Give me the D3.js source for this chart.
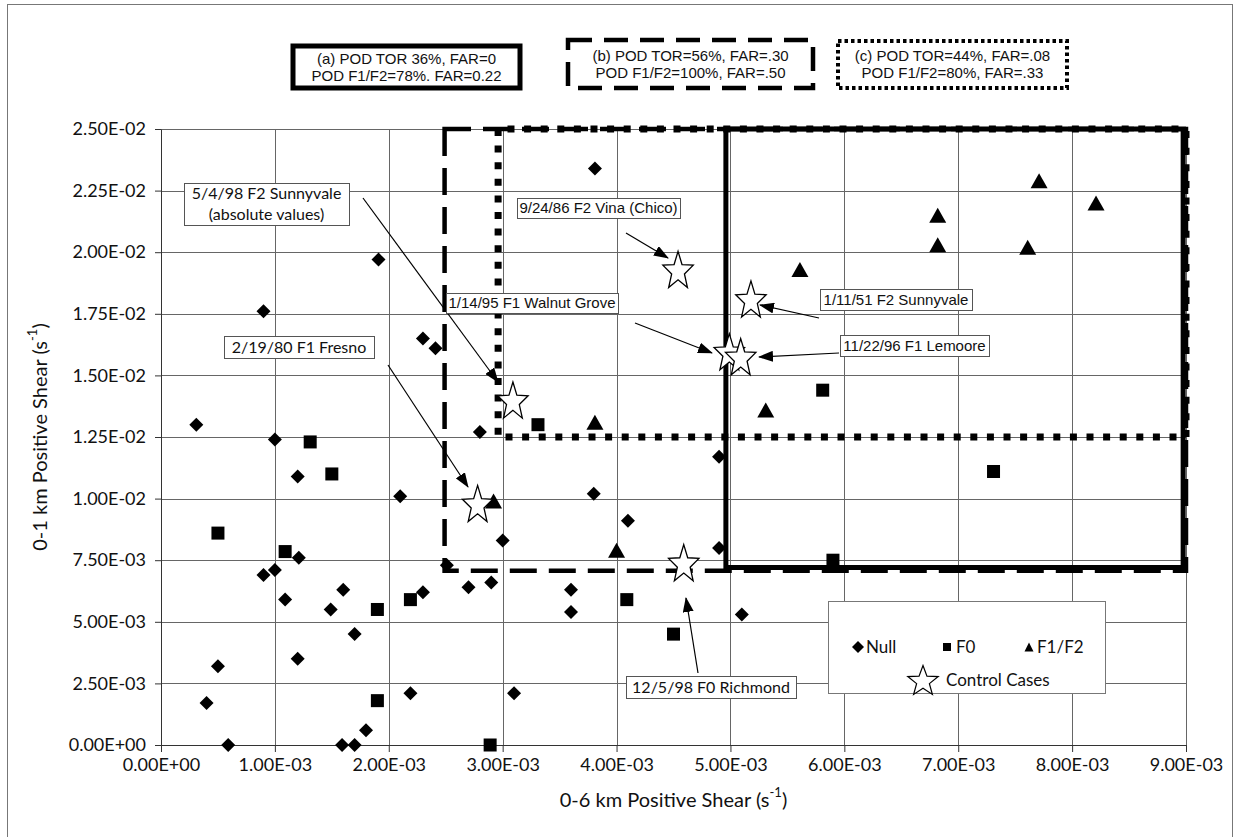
<!DOCTYPE html>
<html><head><meta charset="utf-8">
<script src="https://cdn.jsdelivr.net/npm/d3@7"></script>
<style>body{margin:0;background:#fff}</style>
</head><body>
<svg id="chart" width="1236" height="837"></svg>
<script>
// ---------------- DATA ----------------
const nullX = [0.31,0.90,1.00,1.20,1.91,2.30,2.41,2.10,2.80,3.81,4.90,3.80,4.10,3.00,4.90,2.51,2.70,2.90,3.60,3.60,5.10,1.21,0.90,1.00,1.09,1.49,1.60,1.70,1.20,0.50,0.40,0.59,1.59,1.70,1.80,2.19,2.30,3.10].map(v=>v*1e-3);
const nullY = [13.0,17.6,12.4,10.9,19.7,16.5,16.1,10.1,12.7,23.4,11.7,10.2,9.1,8.3,8.0,7.3,6.4,6.6,6.3,5.4,5.3,7.6,6.9,7.1,5.9,5.5,6.3,4.5,3.5,3.2,1.7,0.0,0.0,0.0,0.6,2.1,6.2,2.1].map(v=>v*1e-3);
const f0X = [0.50,1.09,1.31,1.50,1.90,1.90,2.19,2.89,3.31,4.09,4.50,5.81,5.90,7.31].map(v=>v*1e-3);
const f0Y = [8.6,7.85,12.3,11.0,5.5,1.8,5.9,0.0,13.0,5.9,4.5,14.4,7.5,11.1].map(v=>v*1e-3);
const f12X = [2.92,3.81,4.00,5.31,5.61,6.82,6.82,7.61,7.71,8.21].map(v=>v*1e-3);
const f12Y = [9.9,13.1,7.9,13.6,19.3,21.5,20.3,20.2,22.9,22.0].map(v=>v*1e-3);
const ctrlNames = ["5/4/98 F2 Sunnyvale","2/19/80 F1 Fresno","9/24/86 F2 Vina (Chico)","1/14/95 F1 Walnut Grove","11/22/96 F1 Lemoore","1/11/51 F2 Sunnyvale","12/5/98 F0 Richmond"];
const ctrlX = [3.09,2.78,4.54,4.99,5.09,5.18,4.59].map(v=>v*1e-3);
const ctrlY = [14.0,9.8,19.3,15.96,15.76,18.1,7.4].map(v=>v*1e-3);

const xTicks = [0,0.001,0.002,0.003,0.004,0.005,0.006,0.007,0.008,0.009];
const xTickLabels = ["0.00E+00","1.00E-03","2.00E-03","3.00E-03","4.00E-03","5.00E-03","6.00E-03","7.00E-03","8.00E-03","9.00E-03"];
const yTicks = [0,0.0025,0.005,0.0075,0.01,0.0125,0.015,0.0175,0.02,0.0225,0.025];
const yTickLabels = ["0.00E+00","2.50E-03","5.00E-03","7.50E-03","1.00E-02","1.25E-02","1.50E-02","1.75E-02","2.00E-02","2.25E-02","2.50E-02"];

// threshold boxes [xMin, yMin, xMax, yMax]
const boxA = [4.96e-3, 7.2e-3, 8.975e-3, 0.025];
const boxB = [2.49e-3, 7.07e-3, 9.0e-3, 0.025];
const boxC = [2.96e-3, 12.5e-3, 9.0e-3, 0.025];
const boxTexts = [
  ["(a)  POD TOR 36%, FAR=0","POD F1/F2=78%. FAR=0.22"],
  ["(b) POD TOR=56%, FAR=.30","POD F1/F2=100%, FAR=.50"],
  ["(c) POD TOR=44%, FAR=.08","POD F1/F2=80%, FAR=.33"]
];
const legendLabels = ["Null","F0","F1/F2","Control Cases"];
const xTitle = "0-6 km Positive Shear (s";
const yTitle = "0-1 km Positive Shear (s";

// ---------------- LAYOUT ----------------
const svg = d3.select('#chart');
const M = {l:161, r:1186, t:129, b:745};
const x = d3.scaleLinear().domain([0,0.009]).range([M.l,M.r]);
const y = d3.scaleLinear().domain([0,0.025]).range([M.b,M.t]);
const OPT = "Lato, 'Open Sans', sans-serif";
const HEL = "'Liberation Sans', Arial, sans-serif";
const NAR = "'Liberation Sans Narrow', 'Liberation Sans', Arial, sans-serif";

svg.append('rect').attr('width',1236).attr('height',837).attr('fill','#fff');
// outer frame
svg.append('rect').attr('x',7.5).attr('y',4.5).attr('width',1225).attr('height',845)
  .attr('fill','none').attr('stroke','#777').attr('stroke-width',1);

// defs
const defs = svg.append('defs');
defs.append('marker').attr('id','ah').attr('markerUnits','userSpaceOnUse')
  .attr('markerWidth',15).attr('markerHeight',11).attr('refX',14).attr('refY',5.5).attr('orient','auto')
  .append('path').attr('d','M0,0 L15,5.5 L0,11 Z').attr('fill','#000');

// gridlines
const grid = svg.append('g').attr('stroke','#666').attr('stroke-width',1).attr('shape-rendering','crispEdges');
grid.selectAll('.gv').data(xTicks).join('line')
  .attr('x1',d=>Math.round(x(d))+0.5).attr('x2',d=>Math.round(x(d))+0.5).attr('y1',M.t).attr('y2',M.b);
grid.selectAll('.gh').data(yTicks).join('line')
  .attr('y1',d=>Math.round(y(d))+0.5).attr('y2',d=>Math.round(y(d))+0.5).attr('x1',M.l).attr('x2',M.r);

// axes
const yAxis = d3.axisLeft(y).tickValues(yTicks).tickFormat((d,i)=>yTickLabels[i]).tickSize(6).tickSizeOuter(0).tickPadding(9);
const xAxis = d3.axisBottom(x).tickValues(xTicks).tickFormat((d,i)=>xTickLabels[i]).tickSize(7).tickSizeOuter(0).tickPadding(6);
const gy = svg.append('g').attr('transform',`translate(${M.l},0)`).call(yAxis);
const gx = svg.append('g').attr('transform',`translate(0,${M.b})`).call(xAxis);
[gx,gy].forEach(g=>{
  g.selectAll('text').attr('font-family',OPT).attr('font-size',18).attr('fill','#111');
  g.selectAll('line').attr('stroke','#333');
  g.select('.domain').attr('stroke','#333');
});

// threshold boxes
function boxPath(b){
  return `M${x(b[0])},${y(b[3])} L${x(b[0])},${y(b[1])} L${x(b[2])},${y(b[1])} L${x(b[2])},${y(b[3])} Z`;
}
svg.append('path').attr('d',boxPath(boxB)).attr('fill','none').attr('stroke','#000')
  .attr('stroke-width',4.5).attr('stroke-dasharray','27,12');
svg.append('path').attr('d',boxPath(boxC)).attr('fill','none').attr('stroke','#000')
  .attr('stroke-width',7).attr('stroke-dasharray','7,9.6');
svg.append('path').attr('d',boxPath(boxA)).attr('fill','none').attr('stroke','#000')
  .attr('stroke-width',5);

// markers
function starPath(R, sx, ratio){
  const pts=[];
  for(let i=0;i<10;i++){
    const r = i%2 ? R*ratio : R;
    const a = -Math.PI/2 + i*Math.PI/5;
    pts.push([(sx*r*Math.cos(a)).toFixed(2),(r*Math.sin(a)+0.0955*R).toFixed(2)]);
  }
  return 'M'+pts.map(p=>p.join(',')).join('L')+'Z';
}
const diamond = 'M0,-7 L7,0 L0,7 L-7,0 Z';
const tri = 'M0,-7.5 L8.5,7.5 L-8.5,7.5 Z';
const mk = svg.append('g');
mk.selectAll('.nd').data(nullX).join('path').attr('d',diamond)
  .attr('transform',(d,i)=>`translate(${x(d)},${y(nullY[i])})`).attr('fill','#000');
mk.selectAll('.f0').data(f0X).join('rect').attr('width',13).attr('height',13)
  .attr('x',d=>x(d)-6.5).attr('y',(d,i)=>y(f0Y[i])-6.5).attr('fill','#000');
mk.selectAll('.f12').data(f12X).join('path').attr('d',tri)
  .attr('transform',(d,i)=>`translate(${x(d)},${y(f12Y[i])})`).attr('fill','#000');
mk.selectAll('.st').data(ctrlX).join('path').attr('d',starPath(20,0.8,0.42))
  .attr('transform',(d,i)=>`translate(${x(d)},${y(ctrlY[i])})`)
  .attr('fill','#fff').attr('stroke','#000').attr('stroke-width',1.3);

// annotations (label boxes and arrows), pixel layout
const ann = [
  {lines:[ctrlNames[0],"(absolute values)"], box:[184,183,349,225], font:OPT, fs:16, from:[363,198], to:[498,382]},
  {lines:[ctrlNames[1]], box:[224,336,374,358], font:OPT, fs:16, from:[388,365], to:[468,487]},
  {lines:[ctrlNames[2]], box:[517,198,680,218], font:HEL, fs:15, from:[626,233], to:[668,258]},
  {lines:[ctrlNames[3]], box:[446,293,618,313], font:HEL, fs:15, from:[635,323], to:[712,353]},
  {lines:[ctrlNames[4]], box:[840,335,989,356], font:HEL, fs:15, from:[839,353], to:[759,357]},
  {lines:[ctrlNames[5]], box:[820,289,972,310], font:HEL, fs:15, from:[819,318], to:[760,305]},
  {lines:[ctrlNames[6]], box:[626,676,796,698], font:OPT, fs:16, from:[698,673], to:[686,598]}
];
const ag = svg.append('g');
ann.forEach(a=>{
  ag.append('line').attr('x1',a.from[0]).attr('y1',a.from[1]).attr('x2',a.to[0]).attr('y2',a.to[1])
    .attr('stroke','#000').attr('stroke-width',1.2).attr('marker-end','url(#ah)');
});
ann.forEach(a=>{
  const [x0,y0,x1,y1]=a.box;
  ag.append('rect').attr('x',x0+0.5).attr('y',y0+0.5).attr('width',x1-x0).attr('height',y1-y0)
    .attr('fill','#fff').attr('stroke','#555').attr('stroke-width',1);
  const n=a.lines.length, lh=(y1-y0)/n;
  a.lines.forEach((t,i)=>{
    ag.append('text').attr('x',(x0+x1)/2).attr('y',y0+lh*(i+0.5)).attr('dy','0.36em')
      .attr('text-anchor','middle').attr('font-family',a.font).attr('font-size',a.fs).attr('fill','#111').text(t);
  });
});

// legend
const lg = svg.append('g');
lg.append('rect').attr('x',828.5).attr('y',601.5).attr('width',277).attr('height',92)
  .attr('fill','#fff').attr('stroke','#777');
const ly1 = 647, ly2 = 680;
lg.append('path').attr('d','M0,-6 L6,0 L0,6 L-6,0 Z').attr('transform',`translate(858,${ly1})`);
lg.append('text').attr('x',866).attr('y',ly1).attr('dy','0.36em').text(legendLabels[0]);
lg.append('rect').attr('x',943).attr('y',ly1-4).attr('width',8).attr('height',8);
lg.append('text').attr('x',956).attr('y',ly1).attr('dy','0.36em').text(legendLabels[1]);
lg.append('path').attr('d','M0,-4.5 L4.5,4.5 L-4.5,4.5 Z').attr('transform',`translate(1029,${ly1})`);
lg.append('text').attr('x',1037).attr('y',ly1).attr('dy','0.36em').text(legendLabels[2]);
lg.append('path').attr('d',starPath(16,1,0.42)).attr('transform',`translate(923,${ly2})`)
  .attr('fill','#fff').attr('stroke','#000').attr('stroke-width',1.2);
lg.append('text').attr('x',946).attr('y',ly2).attr('dy','0.36em').text(legendLabels[3]);
lg.selectAll('text').attr('font-family',OPT).attr('font-size',17).attr('fill','#111');

// top legend boxes
const tb = [
  {b:[293,46,520,88], style:{w:5, dash:null}},
  {b:[568,40,813,88], style:{w:4.5, dash:'24,12'}},
  {b:[838,41,1067,88], style:{w:4, dash:'3.5,3'}}
];
tb.forEach((t,k)=>{
  const [x0,y0,x1,y1]=t.b;
  const r = svg.append('rect').attr('x',x0).attr('y',y0).attr('width',x1-x0).attr('height',y1-y0)
    .attr('fill','#fff').attr('stroke','#000').attr('stroke-width',t.style.w);
  if(t.style.dash) r.attr('stroke-dasharray',t.style.dash);
  const cy=(y0+y1)/2;
  boxTexts[k].forEach((s,i)=>{
    svg.append('text').attr('x',(x0+x1)/2).attr('y',cy+(i===0?-8.5:8.5)).attr('dy','0.36em')
      .attr('text-anchor','middle').attr('font-family',NAR).attr('font-size',15).attr('fill','#111').text(s);
  });
});

// axis titles
const xt = svg.append('text').attr('x',(M.l+M.r)/2).attr('y',800).attr('dy','0.36em')
  .attr('text-anchor','middle').attr('font-family',OPT).attr('font-size',20).attr('fill','#111');
xt.append('tspan').text(xTitle);
xt.append('tspan').attr('font-size',13).attr('dy','-0.75em').text('-1');
xt.append('tspan').attr('dy','0.5em').text(')');
const yt = svg.append('text').attr('transform',`translate(40,${(M.t+M.b)/2}) rotate(-90)`).attr('dy','0.36em')
  .attr('text-anchor','middle').attr('font-family',OPT).attr('font-size',20).attr('fill','#111');
yt.append('tspan').text(yTitle);
yt.append('tspan').attr('font-size',13).attr('dy','-0.75em').text('-1');
yt.append('tspan').attr('dy','0.5em').text(')');
</script>
</body></html>
